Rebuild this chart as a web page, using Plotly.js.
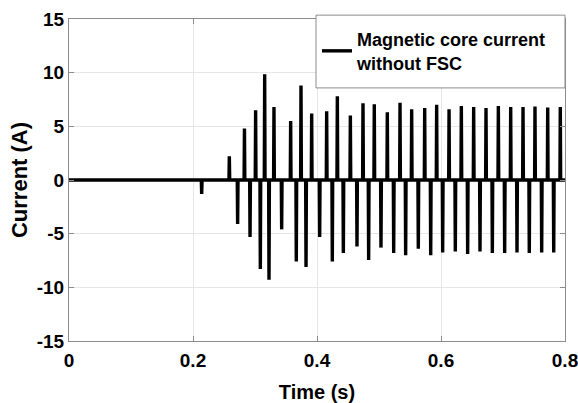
<!DOCTYPE html>
<html>
<head>
<meta charset="utf-8">
<script src="https://cdn.plot.ly/plotly-3.0.1.min.js"></script>
<style>
  html, body { margin: 0; padding: 0; background: #fff; }
  #chart { width: 578px; height: 403px; }
</style>
</head>
<body>
<div id="chart"></div>
<script>
// Peak instants (s) and peak currents (A) of the inrush pulses
const peakTime = [
  0.214, 0.2586, 0.272, 0.283, 0.292, 0.301, 0.3086, 0.3156, 0.3226, 0.3306,
  0.343, 0.3575, 0.3666, 0.3742, 0.3823, 0.3914, 0.4043, 0.4156, 0.4247, 0.4328,
  0.4425, 0.4538, 0.4645, 0.4742, 0.4833, 0.4924, 0.5032, 0.5134, 0.5237, 0.5339,
  0.543, 0.5527, 0.5634, 0.5737, 0.5834, 0.593, 0.6027, 0.613, 0.6231, 0.6328,
  0.643, 0.6527, 0.6629, 0.6726, 0.6828, 0.6925, 0.7027, 0.7124, 0.7226, 0.7323,
  0.7424, 0.7516, 0.7624, 0.7721, 0.7818, 0.7924
];
const peakCurrent = [
  -1.3, 2.2, -4.1, 4.8, -5.3, 6.5, -8.3, 9.85, -9.3, 6.8,
  -4.6, 5.5, -7.6, 8.8, -8.1, 6.2, -5.3, 6.4, -7.6, 7.8,
  -6.8, 6.0, -6.2, 7.15, -7.45, 7.05, -6.3, 6.3, -6.8, 7.2,
  -7.0, 6.6, -6.4, 6.7, -7.0, 7.0, -6.75, 6.6, -6.65, 6.9,
  -6.9, 6.8, -6.65, 6.7, -6.8, 6.9, -6.8, 6.8, -6.75, 6.8,
  -6.8, 6.85, -6.75, 6.75, -6.75, 6.8
];
const timeRange = [0, 0.8];
const xTicks = [0, 0.2, 0.4, 0.6, 0.8];
const xTickText = ['0', '0.2', '0.4', '0.6', '0.8'];
const yTicks = [-15, -10, -5, 0, 5, 10, 15];
const yTickText = ['-15', '-10', '-5', '0', '5', '10', '15'];

// Build the waveform: zero current between narrow pulses
const pulseHalfWidth = 0.0006;
const t = [timeRange[0]];
const i = [0];
peakTime.forEach((tp, k) => {
  t.push(tp - pulseHalfWidth, tp, tp + pulseHalfWidth);
  i.push(0, peakCurrent[k], 0);
});
t.push(timeRange[1]);
i.push(0);

const font = 'Liberation Sans, Arial, sans-serif';

const trace = {
  x: t,
  y: i,
  type: 'scatter',
  mode: 'lines',
  name: 'Magnetic core current<br>without FSC',
  line: { color: '#000000', width: 3.4 },
  hoverinfo: 'skip'
};

const axisCommon = {
  showline: true,
  mirror: 'ticks',
  linecolor: '#8c8c8c',
  linewidth: 1,
  ticks: 'inside',
  ticklen: 5,
  tickcolor: '#8c8c8c',
  showgrid: true,
  gridcolor: '#e6e6e6',
  gridwidth: 1,
  zeroline: false,
  ticklabeloverflow: 'allow',
  tickfont: { family: font, size: 19, color: '#000', weight: 'bold' }
};

const layout = {
  width: 578,
  height: 403,
  margin: { l: 69, r: 13, t: 19, b: 62 },
  paper_bgcolor: '#ffffff',
  plot_bgcolor: '#ffffff',
  showlegend: true,
  xaxis: Object.assign({}, axisCommon, {
    range: timeRange,
    tickmode: 'array',
    tickvals: xTicks,
    ticktext: xTickText,
    ticklabelstandoff: 2,
    title: { text: 'Time (s)', font: { family: font, size: 20, color: '#000', weight: 'bold' }, standoff: 15 }
  }),
  yaxis: Object.assign({}, axisCommon, {
    range: [-15, 15],
    tickmode: 'array',
    tickvals: yTicks,
    ticktext: yTickText,
    title: { text: 'Current (A)', font: { family: font, size: 22, color: '#000', weight: 'bold' }, standoff: 3 }
  }),
  // Legend frame drawn as a rectangle so it can be wider than the entry
  shapes: [{
    type: 'rect',
    xref: 'paper', yref: 'paper',
    x0: 0.498, x1: 1.0,
    y0: 0.786, y1: 1.012,
    line: { color: '#8c8c8c', width: 1 },
    fillcolor: '#ffffff',
    layer: 'above'
  }],
  legend: {
    x: 0.5,
    y: 0.994,
    xanchor: 'left',
    yanchor: 'top',
    bgcolor: 'rgba(0,0,0,0)',
    borderwidth: 0,
    itemwidth: 30,
    font: { family: font, size: 18, color: '#000', weight: 'bold' }
  }
};

Plotly.newPlot('chart', [trace], layout, { staticPlot: true, displayModeBar: false });
</script>
</body>
</html>
